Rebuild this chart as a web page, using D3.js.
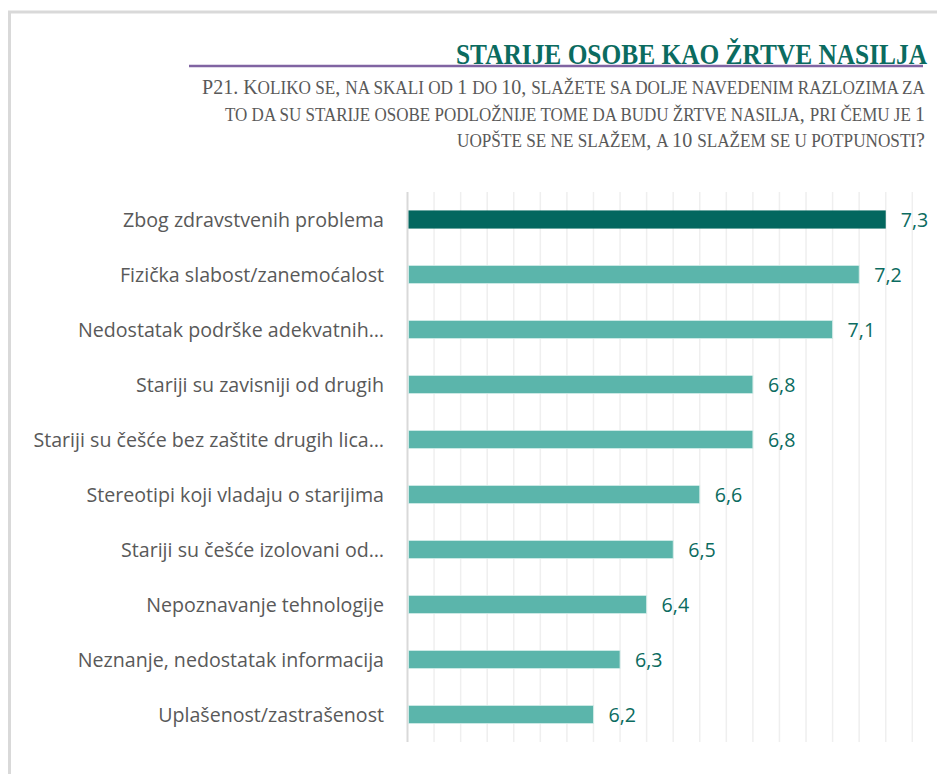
<!DOCTYPE html>
<html>
<head>
<meta charset="utf-8">
<script src="https://cdn.jsdelivr.net/npm/d3@7"></script>
<style>
  html, body { margin: 0; padding: 0; background: #ffffff; }
  svg { display: block; }
</style>
</head>
<body>
<svg id="chart" width="937" height="774"></svg>
<script>
var categories = [
  "Zbog zdravstvenih problema",
  "Fizička slabost/zanemoćalost",
  "Nedostatak podrške adekvatnih…",
  "Stariji su zavisniji od drugih",
  "Stariji su češće bez zaštite drugih lica…",
  "Stereotipi koji vladaju o starijima",
  "Stariji su češće izolovani od…",
  "Nepoznavanje tehnologije",
  "Neznanje, nedostatak informacija",
  "Uplašenost/zastrašenost"
];
var values = [7.3, 7.2, 7.1, 6.8, 6.8, 6.6, 6.5, 6.4, 6.3, 6.2];
var highlighted = ["Zbog zdravstvenih problema"];
var xDomain = [5.5, 7.4];

var titleText = "STARIJE OSOBE KAO ŽRTVE NASILJA";
var subtitleLines = [
  "P21. Koliko se, na skali od 1 do 10, slažete sa dolje navedenim razlozima za",
  "to da su starije osobe podložnije tome da budu žrtve nasilja, pri čemu je 1",
  "uopšte se ne slažem, a 10 slažem se u potpunosti?"
];

var svg = d3.select("#chart");
var fmt = function(v) { return d3.format(".1f")(v).replace(".", ","); };

// frame
svg.append("rect")
  .attr("x", 9.5).attr("y", 12)
  .attr("width", 960).attr("height", 800)
  .attr("fill", "none")
  .attr("stroke", "#d9d9d9")
  .attr("stroke-width", 3);

// title block
svg.append("line")
  .attr("x1", 189).attr("x2", 923)
  .attr("y1", 66).attr("y2", 66)
  .attr("stroke", "#8064a2")
  .attr("stroke-width", 2.6);

svg.append("text")
  .attr("x", 927).attr("y", 64)
  .attr("text-anchor", "end")
  .attr("font-family", "Liberation Serif")
  .attr("font-weight", "bold")
  .attr("font-size", 29)
  .attr("fill", "#0b6b60")
  .attr("textLength", 471)
  .attr("lengthAdjust", "spacingAndGlyphs")
  .text(titleText);

// subtitle: hand-made small caps (lowercase runs set smaller and upper-cased)
var splitRuns = function(s) {
  var runs = [];
  s.split("").forEach(function(ch) {
    var small = ch !== ch.toUpperCase() || ch === " " && runs.length && runs[runs.length - 1].small;
    if (runs.length && runs[runs.length - 1].small === small) runs[runs.length - 1].t += ch;
    else runs.push({ t: ch, small: small });
  });
  return runs;
};

var subLengths = [723, 700, 468];
var subBaselines = [94, 121, 147];
var subs = svg.append("g")
  .attr("font-family", "Liberation Serif")
  .attr("fill", "#595959")
  .attr("text-anchor", "end")
  .selectAll("text")
  .data(subtitleLines)
  .enter().append("text")
  .attr("x", 925)
  .attr("y", function(d, i) { return subBaselines[i]; })
  .attr("textLength", function(d, i) { return subLengths[i]; })
  .attr("lengthAdjust", "spacingAndGlyphs");

subs.selectAll("tspan")
  .data(function(d) { return splitRuns(d); })
  .enter().append("tspan")
  .attr("font-size", function(r) { return r.small ? 18 : 21; })
  .text(function(r) { return r.small ? r.t.toUpperCase() : r.t; });

// plot
var x0 = 407.5, x1 = 912.3;
var y0 = 192, y1 = 742;

var x = d3.scaleLinear().domain(xDomain).range([x0, x1]);
var y = d3.scaleBand().domain(categories).range([y0, y1])
  .paddingInner(0.67).paddingOuter(0.335);

var gridTicks = x.ticks(20).filter(function(t) { return t > xDomain[0] + 1e-9; });

svg.append("g")
  .attr("stroke", "#efefef")
  .attr("stroke-width", 1.5)
  .selectAll("line")
  .data(gridTicks)
  .enter().append("line")
  .attr("x1", function(d) { return x(d); })
  .attr("x2", function(d) { return x(d); })
  .attr("y1", y0).attr("y2", y1);

svg.append("line")
  .attr("x1", x0).attr("x2", x0)
  .attr("y1", y0).attr("y2", y1)
  .attr("stroke", "#d9d9d9")
  .attr("stroke-width", 2);

svg.append("g")
  .selectAll("rect")
  .data(values)
  .enter().append("rect")
  .attr("x", x(xDomain[0]) + 1)
  .attr("y", function(d, i) { return y(categories[i]); })
  .attr("width", function(d) { return x(d) - x(xDomain[0]) - 1; })
  .attr("height", y.bandwidth())
  .attr("fill", function(d, i) { return highlighted.indexOf(categories[i]) >= 0 ? "#03675f" : "#5bb5ab"; })
  .attr("stroke", function(d, i) { return highlighted.indexOf(categories[i]) >= 0 ? "none" : "#d6eeea"; })
  .attr("stroke-width", 0.8);

var labelFont = "Open Sans";
var catLabels = svg.append("g")
  .attr("font-family", labelFont)
  .attr("font-size", 17)
  .attr("fill", "#595959")
  .attr("text-anchor", "end");

catLabels.selectAll("text")
  .data(categories)
  .enter().append("text")
  .attr("x", 384)
  .attr("y", function(d) { return y(d) + y.bandwidth() / 2; })
  .attr("dy", "0.36em")
  .text(function(d) { return d; });

// fit the label size so the first label spans about the same width as in the reference
var w0 = catLabels.select("text").node().getComputedTextLength();
var labelSize = w0 > 0 ? 17 * 261 / w0 : 17;
catLabels.attr("font-size", labelSize);

svg.append("g")
  .attr("font-family", labelFont)
  .attr("font-size", labelSize)
  .attr("fill", "#0b6b60")
  .selectAll("text")
  .data(values)
  .enter().append("text")
  .attr("x", function(d) { return x(d) + 15; })
  .attr("y", function(d, i) { return y(categories[i]) + y.bandwidth() / 2; })
  .attr("dy", "0.36em")
  .text(function(d) { return fmt(d); });
</script>
</body>
</html>
